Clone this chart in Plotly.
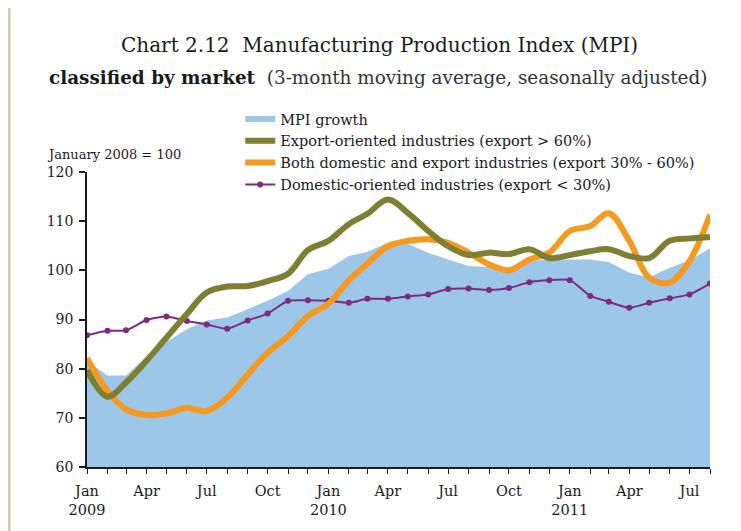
import pandas as pd
import plotly.graph_objects as go

# Monthly observations, Jan 2009 - Aug 2011 (January 2008 = 100)
months = pd.date_range("2009-01-01", "2011-08-01", freq="MS")

mpi_growth = [81.5, 78.6, 78.6, 82.5, 85.5, 88.0, 89.8, 90.4, 92.1, 93.8, 95.8, 99.2,
              100.3, 102.9, 103.8, 105.6, 105.4, 103.6, 102.2, 100.9, 100.7, 100.5, 101.9, 102.2,
              102.2, 102.2, 101.7, 99.5, 98.6, 100.5, 102.0, 104.5]

export_oriented = [79.7, 74.3, 77.2, 81.6, 86.3, 91.1, 95.5, 96.7, 96.8, 97.8, 99.3, 104.1,
                   106.0, 109.4, 111.5, 114.4, 111.7, 108.0, 104.9, 103.1, 103.6, 103.3, 104.3, 102.5,
                   103.1, 103.9, 104.3, 102.9, 102.5, 106.0, 106.5, 106.8]

both_markets = [82.1, 75.5, 71.7, 70.6, 70.9, 72.0, 71.4, 74.1, 78.8, 83.2, 86.6, 90.7,
                93.2, 98.0, 101.4, 104.9, 106.0, 106.3, 105.6, 103.6, 101.2, 100.0, 102.2, 103.6,
                108.0, 109.0, 111.6, 106.0, 98.5, 97.5, 101.9, 111.3]

domestic_oriented = [86.8, 87.7, 87.8, 89.9, 90.6, 89.7, 89.0, 88.1, 89.8, 91.2, 93.8, 93.9,
                     93.8, 93.4, 94.2, 94.2, 94.7, 95.1, 96.2, 96.3, 96.0, 96.4, 97.6, 98.0,
                     98.0, 94.8, 93.6, 92.4, 93.4, 94.3, 95.1, 97.3]

month_names = ["Jan", "Feb", "Mar", "Apr", "May", "Jun",
               "Jul", "Aug", "Sep", "Oct", "Nov", "Dec"]

SERIF = "DejaVu Serif, serif"
INK = "#1a1a1a"

tick_text = []
for d in months:
    if d.month == 1:
        tick_text.append(f"Jan<br>{d.year}")
    elif d.month in (4, 7, 10):
        tick_text.append(month_names[d.month - 1] + "<br> ")
    else:
        tick_text.append("")

fig = go.Figure()

fig.add_trace(go.Scatter(
    x=months, y=mpi_growth, name="MPI growth",
    mode="none", fill="tozeroy", fillcolor="#9DC7E9",
    legendrank=1,
))
fig.add_trace(go.Scatter(
    x=months, y=domestic_oriented, name="Domestic-oriented industries (export < 30%)",
    mode="lines+markers", line=dict(color="#7D2B80", width=2, shape="spline", smoothing=0.6),
    marker=dict(size=6, color="#7D2B80"),
    legendrank=4,
))
fig.add_trace(go.Scatter(
    x=months, y=both_markets, name="Both domestic and export industries (export 30% - 60%)",
    mode="lines", line=dict(color="#F7981F", width=6, shape="spline", smoothing=1.0),
    legendrank=3,
))
fig.add_trace(go.Scatter(
    x=months, y=export_oriented, name="Export-oriented industries (export > 60%)",
    mode="lines", line=dict(color="#7E7F33", width=6, shape="spline", smoothing=1.0),
    legendrank=2,
))

# y-axis note
fig.add_annotation(text="January 2008 = 100", xref="paper", yref="paper",
                   x=-0.068, y=1.058, xanchor="left", yanchor="middle",
                   showarrow=False, font=dict(family=SERIF, size=13, color=INK))

# titles
fig.add_annotation(text="Chart 2.12  Manufacturing Production Index (MPI)",
                   xref="paper", yref="paper", x=0.469, y=1.431,
                   xanchor="center", yanchor="middle", showarrow=False,
                   font=dict(family=SERIF, size=20, color=INK))
fig.add_annotation(text="<b>classified by market</b>  <span style='color:#333'>(3-month moving average, seasonally adjusted)</span>",
                   xref="paper", yref="paper", x=0.467, y=1.319,
                   xanchor="center", yanchor="middle", showarrow=False,
                   font=dict(family=SERIF, size=18.4, color=INK))

# beige page edge on the left
fig.add_shape(type="line", xref="paper", yref="paper",
              x0=-0.125, x1=-0.125, y0=-0.3, y1=1.7,
              line=dict(color="#D4CAB6", width=3))

fig.update_layout(
    width=741, height=531,
    margin=dict(l=79, r=39, t=164, b=72),
    paper_bgcolor="white", plot_bgcolor="white",
    font=dict(family=SERIF, size=14, color=INK),
    showlegend=True,
    legend=dict(x=0.246, y=1.234, xanchor="left", yanchor="top",
                font=dict(family=SERIF, size=14.5, color=INK),
                bgcolor="rgba(0,0,0,0)", tracegroupgap=0, itemwidth=30),
)
fig.update_xaxes(
    automargin=False,
    range=[months[0], months[-1]],
    tickmode="array", tickvals=months, ticktext=tick_text,
    ticks="outside", ticklen=5, tickcolor=INK, tickwidth=1,
    ticklabelstandoff=5,
    showline=True, linecolor=INK, linewidth=1.5,
    showgrid=False, zeroline=False, tickangle=0,
    tickfont=dict(family=SERIF, size=14.5, color=INK),
)
fig.update_yaxes(
    automargin=False,
    range=[60, 120], dtick=10,
    ticks="outside", ticklen=6, tickcolor=INK, tickwidth=1.5,
    ticklabelstandoff=3,
    showline=True, linecolor=INK, linewidth=1.5,
    showgrid=False, zeroline=False,
    tickfont=dict(family=SERIF, size=14, color=INK),
)

fig.write_html("out.html")
